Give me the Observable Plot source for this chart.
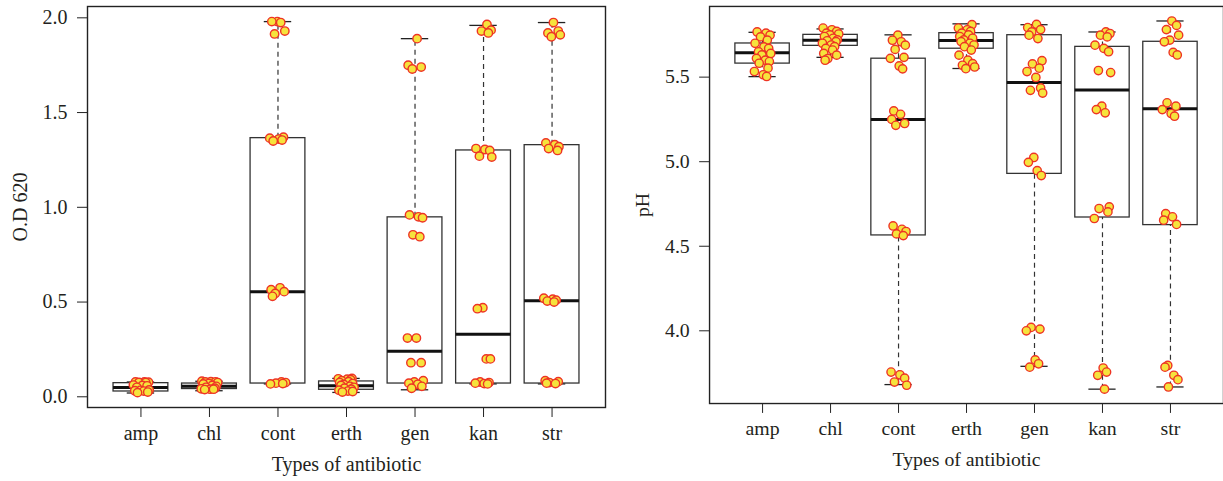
<!DOCTYPE html>
<html>
<head>
<meta charset="utf-8">
<script src="https://cdn.jsdelivr.net/npm/d3@7"></script>
<script src="https://cdn.jsdelivr.net/npm/@observablehq/plot@0.6"></script>
<style>
  html, body { margin: 0; padding: 0; background: #fff; overflow: hidden; }
  #wrap { position: relative; width: 1223px; height: 481px; overflow: hidden; }
  #left { position: absolute; left: 0; top: 0; }
  #right { position: absolute; left: 612px; top: 0; }
</style>
</head>
<body>
<div id="wrap"><div id="left"></div><div id="right"></div></div>
<script>
// ---------- data ----------
const categories = ["amp", "chl", "cont", "erth", "gen", "kan", "str"];

// O.D 620 box statistics (lower whisker, Q1, median, Q3, upper whisker)
const odLow  = [0.020, 0.032, 0.068, 0.023, 0.037, 0.068, 0.068];
const odQ1   = [0.028, 0.041, 0.070, 0.037, 0.070, 0.070, 0.070];
const odMed  = [0.049, 0.055, 0.555, 0.058, 0.240, 0.330, 0.507];
const odQ3   = [0.072, 0.070, 1.365, 0.081, 0.947, 1.300, 1.328];
const odHigh = [0.078, 0.082, 1.980, 0.097, 1.890, 1.960, 1.975];

// O.D 620 observations per antibiotic
const odValues = [
  [0.078, 0.078, 0.077, 0.076, 0.075, 0.062, 0.060, 0.058, 0.050, 0.036, 0.034, 0.032, 0.030, 0.025, 0.022],
  [0.082, 0.080, 0.079, 0.078, 0.075, 0.070, 0.068, 0.060, 0.055, 0.050, 0.045, 0.042, 0.040, 0.040, 0.038],
  [1.980, 1.980, 1.975, 1.930, 1.915, 1.370, 1.365, 1.360, 1.355, 1.350, 0.575, 0.565, 0.555, 0.545, 0.530, 0.078, 0.075, 0.072, 0.070, 0.068],
  [0.097, 0.095, 0.093, 0.090, 0.085, 0.080, 0.075, 0.070, 0.065, 0.060, 0.055, 0.050, 0.045, 0.040, 0.035, 0.030, 0.028, 0.025],
  [1.890, 1.750, 1.740, 1.730, 0.960, 0.950, 0.945, 0.855, 0.845, 0.310, 0.310, 0.180, 0.180, 0.085, 0.078, 0.072, 0.066, 0.055, 0.045],
  [1.965, 1.935, 1.930, 1.920, 1.310, 1.305, 1.300, 1.270, 1.265, 0.470, 0.465, 0.200, 0.200, 0.078, 0.075, 0.072, 0.070, 0.068],
  [1.975, 1.930, 1.920, 1.910, 1.900, 1.340, 1.330, 1.320, 1.310, 1.300, 0.520, 0.515, 0.510, 0.505, 0.500, 0.085, 0.080, 0.075, 0.072, 0.070]
];

// pH box statistics
const phLow  = [5.503, 5.617, 3.682, 5.551, 3.790, 3.655, 3.668];
const phQ1   = [5.580, 5.685, 4.564, 5.668, 4.928, 4.670, 4.625];
const phMed  = [5.644, 5.718, 5.250, 5.717, 5.468, 5.424, 5.313];
const phQ3   = [5.699, 5.750, 5.609, 5.760, 5.748, 5.679, 5.709];
const phHigh = [5.765, 5.785, 5.750, 5.815, 5.810, 5.767, 5.832];

// pH observations per antibiotic
const phValues = [
  [5.767, 5.760, 5.748, 5.738, 5.719, 5.700, 5.679, 5.670, 5.650, 5.640, 5.631, 5.611, 5.600, 5.592, 5.582, 5.553, 5.533, 5.514, 5.504],
  [5.790, 5.780, 5.770, 5.760, 5.755, 5.750, 5.740, 5.730, 5.720, 5.715, 5.710, 5.700, 5.690, 5.680, 5.670, 5.660, 5.640, 5.630, 5.610, 5.600],
  [5.748, 5.718, 5.709, 5.689, 5.664, 5.617, 5.611, 5.566, 5.549, 5.300, 5.280, 5.250, 5.226, 5.215, 4.620, 4.600, 4.587, 4.573, 4.563, 3.756, 3.740, 3.720, 3.697, 3.678],
  [5.810, 5.790, 5.780, 5.770, 5.760, 5.750, 5.740, 5.730, 5.720, 5.710, 5.700, 5.690, 5.680, 5.660, 5.630, 5.600, 5.580, 5.570, 5.560, 5.550],
  [5.812, 5.793, 5.781, 5.767, 5.748, 5.728, 5.597, 5.578, 5.553, 5.533, 5.498, 5.436, 5.422, 5.406, 5.025, 4.996, 4.947, 4.918, 4.020, 4.010, 4.000, 3.828, 3.805, 3.785],
  [5.767, 5.758, 5.748, 5.738, 5.689, 5.670, 5.650, 5.539, 5.527, 5.328, 5.308, 5.289, 4.733, 4.723, 4.703, 4.664, 3.780, 3.756, 3.737, 3.655],
  [5.832, 5.806, 5.781, 5.748, 5.719, 5.709, 5.646, 5.631, 5.348, 5.328, 5.308, 5.285, 5.269, 4.693, 4.674, 4.654, 4.629, 3.795, 3.785, 3.737, 3.711, 3.668]
];

const odTicks = [0, 0.5, 1, 1.5, 2];
const phTicks = [4, 4.5, 5, 5.5];

// ---------- drawing ----------
const JITTER = [-0.08, 0.05, 0.11, -0.03, 0.07, -0.11, 0.02, 0.09, -0.06, 0.12, -0.01, -0.09, 0.04, 0.10, -0.05, 0.08, -0.12, 0.01, 0.06, -0.07, 0.03, -0.10, 0.09, -0.04];
const TEXT = "#231f20";

function panel({values, low, q1, med, q3, high, yDomain, ticks, ylabel, width, marginLeft, marginRight}) {
  const boxes = categories.map((c, i) => ({i: i + 1, low: low[i], q1: q1[i], med: med[i], q3: q3[i], high: high[i]}));
  const pts = categories.flatMap((c, i) => values[i].map((v, j) => ({x: i + 1 + JITTER[(j + i * 5) % JITTER.length], y: v})));
  return Plot.plot({
    width, height: 481,
    marginLeft, marginRight, marginTop: 6, marginBottom: 74,
    x: {domain: [0.22, 7.78], axis: null},
    y: {domain: yDomain, axis: null},
    style: {fontFamily: "'Liberation Serif', 'DejaVu Serif', serif", fontSize: "20px", color: TEXT, background: "white"},
    marks: [
      Plot.ruleX(boxes, {x: "i", y1: "q3", y2: "high", stroke: "#333", strokeWidth: 1.2, strokeDasharray: "5,4"}),
      Plot.ruleX(boxes, {x: "i", y1: "low", y2: "q1", stroke: "#333", strokeWidth: 1.2, strokeDasharray: "5,4"}),
      Plot.ruleY(boxes, {y: "high", x1: d => d.i - 0.2, x2: d => d.i + 0.2, stroke: "#222", strokeWidth: 1.3}),
      Plot.ruleY(boxes, {y: "low", x1: d => d.i - 0.2, x2: d => d.i + 0.2, stroke: "#222", strokeWidth: 1.3}),
      Plot.rect(boxes, {x1: d => d.i - 0.4, x2: d => d.i + 0.4, y1: "q1", y2: "q3", fill: "white", stroke: "#333", strokeWidth: 1.3}),
      Plot.ruleY(boxes, {y: "med", x1: d => d.i - 0.4, x2: d => d.i + 0.4, stroke: "#111", strokeWidth: 3}),
      Plot.dot(pts, {x: "x", y: "y", r: 4.2, fill: "#f6e33c", stroke: "#ee3424", strokeWidth: 1.4}),
      Plot.frame({stroke: "#222", strokeWidth: 1.4}),
      Plot.axisX([1, 2, 3, 4, 5, 6, 7], {tickSize: 10, tickPadding: 8, tickFormat: d => categories[d - 1], label: "Types of antibiotic", labelAnchor: "center", labelArrow: "none", labelOffset: 63, fontSize: 20, fill: TEXT, stroke: "#222"}),
      Plot.axisY(ticks, {tickSize: 10, tickPadding: 10, tickFormat: d => d.toFixed(1), label: ylabel, labelAnchor: "center", labelArrow: "none", labelOffset: 75, fontSize: 20, fill: TEXT, stroke: "#222"})
    ]
  });
}

document.getElementById("left").appendChild(panel({
  values: odValues, low: odLow, q1: odQ1, med: odMed, q3: odQ3, high: odHigh,
  yDomain: [-0.0565, 2.0597], ticks: odTicks, ylabel: "O.D 620",
  width: 612, marginLeft: 87, marginRight: 7
}));
document.getElementById("right").appendChild(panel({
  values: phValues, low: phLow, q1: phQ1, med: phMed, q3: phQ3, high: phHigh,
  yDomain: [3.570, 5.918], ticks: phTicks, ylabel: "pH",
  width: 617, marginLeft: 98, marginRight: 0
}));
</script>
</body>
</html>
